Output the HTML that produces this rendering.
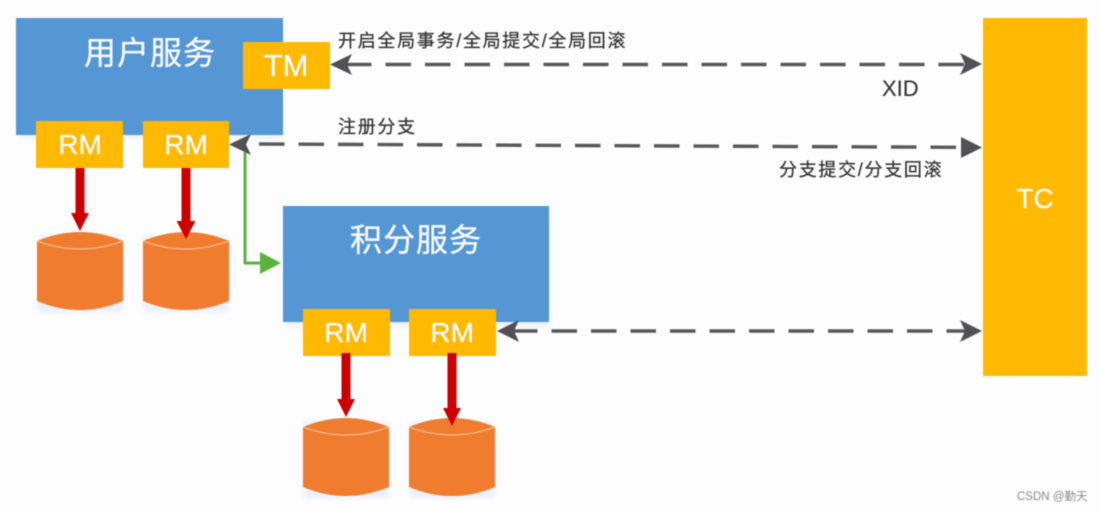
<!DOCTYPE html>
<html>
<head>
<meta charset="utf-8">
<style>
html,body{margin:0;padding:0;background:#fdfdfe;}
svg{display:block;filter:blur(0.45px);}
text{font-family:"Liberation Sans","Noto Sans CJK SC",sans-serif;}
.w{fill:#f6f9fc;text-anchor:middle;stroke:#f6f9fc;stroke-width:.35;}
.d{fill:#333;stroke:#333;stroke-width:.25;}
.dash{stroke:#595959;stroke-width:3.4;stroke-dasharray:25.5 14;fill:none;}
.h{fill:#505056;}
</style>
</head>
<body>
<svg width="1100" height="510" viewBox="0 0 1100 510" xmlns="http://www.w3.org/2000/svg">
<defs>
<filter id="s" x="-10%" y="-10%" width="120%" height="125%"><feGaussianBlur stdDeviation="3"/></filter>
<g id="cyl">
<path d="M0 9 Q43 -9 86 9 V69 Q43 87 0 69 Z" fill="#f07c30"/>
<path d="M0 9 Q43 25 86 9" fill="none" stroke="#f8c8a4" stroke-width="1"/>
</g>
</defs>
<rect width="1100" height="510" fill="#fdfdfe"/>
<g fill="#c8d9ec" opacity=".4" filter="url(#s)">
<rect x="18" y="22" width="264" height="116"/>
<rect x="285" y="210" width="264" height="116"/>
<rect x="38" y="236" width="84" height="76"/>
<rect x="144" y="236" width="84" height="76"/>
<rect x="304" y="422" width="84" height="76"/>
<rect x="410" y="422" width="84" height="76"/>
</g>
<rect x="16" y="18" width="267" height="117" fill="#5596d5"/>
<rect x="283" y="206" width="266" height="116" fill="#5596d5"/>
<rect x="983" y="18" width="104" height="358" fill="#ffb900"/>
<rect x="243" y="42" width="87" height="47" fill="#ffb900"/>
<rect x="36" y="121" width="87" height="47" fill="#ffb900"/>
<rect x="143" y="121" width="86" height="47" fill="#ffb900"/>
<rect x="303" y="309" width="87" height="47" fill="#ffb900"/>
<rect x="409" y="309" width="87" height="47" fill="#ffb900"/>
<use href="#cyl" x="37" y="232"/>
<use href="#cyl" x="143" y="232"/>
<use href="#cyl" x="303" y="418"/>
<use href="#cyl" x="409" y="418"/>
<g fill="#cc0000">
<path d="M75.500 168H84.500V213H89L80 231L71 213H75.500Z"/>
<path d="M181.500 168H190.500V221H195.500L186 239L176.500 221H181.500Z"/>
<path d="M341.500 353H350.500V399H355L346 417L337 399H341.500Z"/>
<path d="M447.500 353H456.500V408H461L452 426L443 408H447.500Z"/>
</g>
<path d="M245 152V263H262" fill="none" stroke="#5cb33c" stroke-width="3"/>
<path d="M260 252L281 263L260 274Z" fill="#5cb33c"/>
<line class="dash" x1="346" y1="64.500" x2="968" y2="64.500"/>
<line class="dash" x1="259" y1="144" x2="957" y2="147.300"/>
<line class="dash" x1="512" y1="331" x2="968" y2="331"/>
<path class="h" d="M330 64.500L352 54L347 64.500L352 75Z"/>
<path class="h" d="M982 64L960 53L965 64L960 75Z"/>
<path class="h" d="M229 144.500L251 134L246 144.500L251 155Z"/>
<path class="h" d="M982 147.500L961 137L961 158Z"/>
<path class="h" d="M497 331L519 320L514 331L519 342Z"/>
<path class="h" d="M982 331L960 320L965 331L960 342Z"/>
<text class="w" x="150" y="64" font-size="32" letter-spacing="1">用户服务</text>
<text class="w" x="416" y="251" font-size="32" letter-spacing="1">积分服务</text>
<g font-size="28">
<text class="w" x="286" y="76" font-size="31">TM</text>
<text class="w" x="80" y="154">RM</text>
<text class="w" x="186" y="154">RM</text>
<text class="w" x="346" y="342">RM</text>
<text class="w" x="452" y="342">RM</text>
<text class="w" x="1035" y="208">TC</text>
</g>
<g class="d" font-size="18">
<text x="338" y="47" letter-spacing="1.700">开启全局事务/全局提交/全局回滚</text>
<text x="338" y="133" letter-spacing="1.700">注册分支</text>
<text x="779" y="176" letter-spacing="1.700">分支提交/分支回滚</text>
<text x="882" y="96" font-size="22" style="stroke-width:.1">XID</text>
</g>
<text x="1017" y="500" font-size="11.500" fill="#8a8a8a">CSDN @勤天</text>
</svg>
</body>
</html>
